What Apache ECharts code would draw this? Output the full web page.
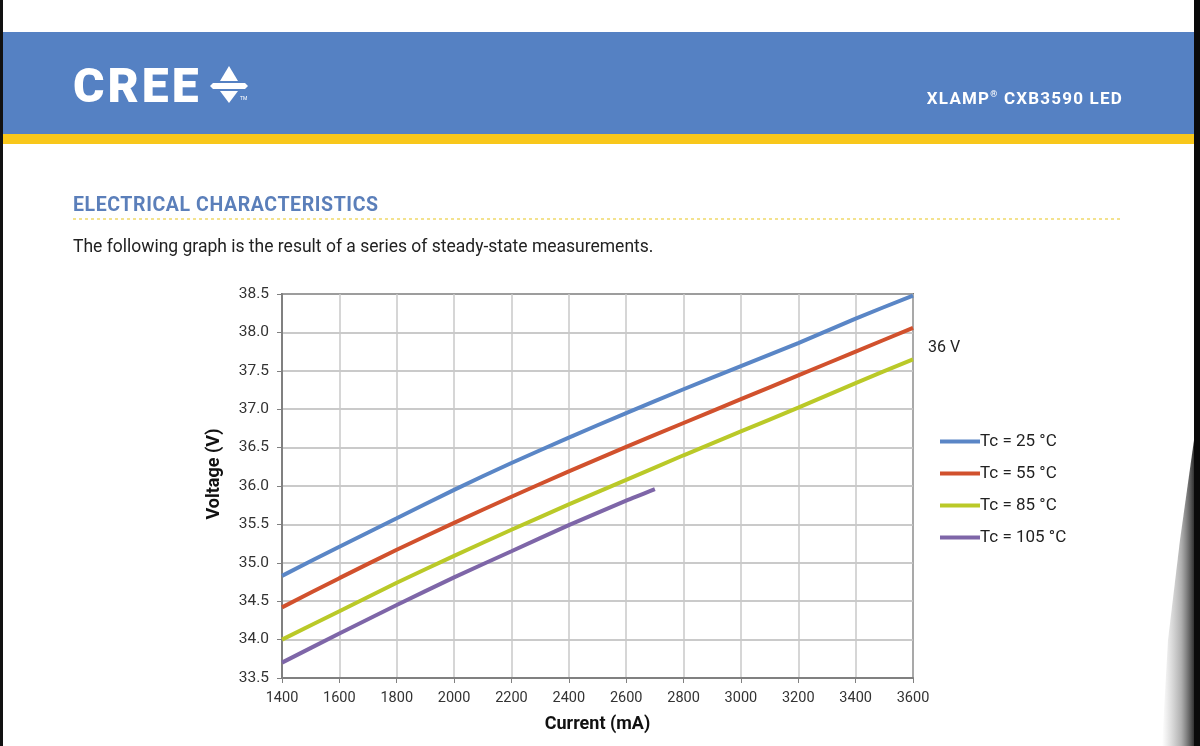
<!DOCTYPE html>
<html>
<head>
<meta charset="utf-8">
<script src="https://cdn.jsdelivr.net/npm/echarts@6/dist/echarts.min.js"></script>
<style>
html,body{margin:0;padding:0;background:#fff;}
#wrap{position:relative;width:1200px;height:746px;overflow:hidden;}
#c{position:absolute;left:0;top:0;width:1200px;height:746px;}
.t{position:absolute;white-space:nowrap;font-family:Roboto,sans-serif;line-height:1;z-index:5;}
#logo{left:73px;top:62px;font-size:48px;font-weight:900;color:#fff;letter-spacing:3px;}
#prod{right:77px;top:90px;font-size:17px;font-weight:700;color:#fff;letter-spacing:1.2px;}
#prod sup{font-size:9px;vertical-align:7px;line-height:0;}
#sec{left:73px;top:195px;font-size:19.5px;font-weight:700;color:#5B7FBA;letter-spacing:0.6px;}
#para{left:73px;top:238px;font-size:17.5px;color:#222;}
</style>
</head>
<body>
<div id="wrap">
<div id="c"></div>
<div class="t" id="logo">CREE</div>
<div class="t" id="prod">XLAMP<sup>®</sup> CXB3590 LED</div>
<div class="t" id="sec">ELECTRICAL CHARACTERISTICS</div>
<div class="t" id="para">The following graph is the result of a series of steady-state measurements.</div>
</div>
<script>
// ---- data ----
const seriesNames = ['Tc = 25 °C', 'Tc = 55 °C', 'Tc = 85 °C', 'Tc = 105 °C'];
const currents = [1400, 1600, 1800, 2000, 2200, 2400, 2600, 2800, 3000, 3200, 3400, 3600];
const v25  = [34.83, 35.21, 35.58, 35.95, 36.30, 36.63, 36.95, 37.26, 37.56, 37.86, 38.18, 38.48];
const v55  = [34.42, 34.80, 35.17, 35.52, 35.86, 36.19, 36.51, 36.82, 37.13, 37.44, 37.75, 38.06];
const v85  = [34.00, 34.37, 34.74, 35.09, 35.43, 35.76, 36.08, 36.40, 36.71, 37.02, 37.34, 37.65];
const currents105 = [1400, 1600, 1800, 2000, 2200, 2400, 2600, 2700];
const v105 = [33.70, 34.08, 34.45, 34.81, 35.15, 35.49, 35.81, 35.96];
const xTicks = {min: 1400, max: 3600, step: 200};
const yTicks = {min: 33.5, max: 38.5, step: 0.5};
const xAxisTitle = 'Current (mA)';
const yAxisTitle = 'Voltage (V)';
const noteText = '36 V';
const colors = ['#5A86C6', '#D1512D', '#BAC928', '#7E66A8'];

function pairs(xs, ys){ return xs.map((x, i) => [x, ys[i]]); }

const chart = echarts.init(document.getElementById('c'), null, {renderer: 'canvas'});
const font = 'Roboto';

const option = {
  animation: false,
  backgroundColor: '#ffffff',
  textStyle: {fontFamily: font},
  grid: {left: 282, right: 287, top: 294, bottom: 68, show: true, borderColor: '#111', borderWidth: 1.5, containLabel: false},
  legend: {
    orient: 'vertical', left: 935, top: 428,
    icon: 'rect', itemWidth: 40, itemHeight: 4, itemGap: 15,
    textStyle: {fontFamily: font, fontSize: 17, color: '#222', padding: [0,0,0,-5]},
    data: seriesNames
  },
  xAxis: {
    type: 'value', min: xTicks.min, max: xTicks.max, interval: xTicks.step,
    name: xAxisTitle, nameLocation: 'middle', nameGap: 37,
    nameTextStyle: {fontFamily: font, fontSize: 18, fontWeight: 'bold', color: '#111'},
    axisLine: {show: true, lineStyle: {color: '#808080', width: 2}},
    axisTick: {show: true, length: 5, lineStyle: {color: '#808080'}},
    axisLabel: {fontFamily: font, fontSize: 14.5, color: '#333', margin: 13, formatter: v => String(v)},
    splitLine: {show: true, lineStyle: {color: '#c8c8c8', width: 1.5}}
  },
  yAxis: {
    type: 'value', min: yTicks.min, max: yTicks.max, interval: yTicks.step,
    axisLine: {show: true, lineStyle: {color: '#808080', width: 2}},
    axisTick: {show: true, length: 5, lineStyle: {color: '#808080'}},
    axisLabel: {fontFamily: font, fontSize: 15.5, color: '#333', margin: 13, formatter: v => v.toFixed(1)},
    splitLine: {show: true, lineStyle: {color: '#b8b8b8', width: 1.5}}
  },
  series: [
    {name: seriesNames[0], type: 'line', data: pairs(currents, v25)},
    {name: seriesNames[1], type: 'line', data: pairs(currents, v55)},
    {name: seriesNames[2], type: 'line', data: pairs(currents, v85)},
    {name: seriesNames[3], type: 'line', data: pairs(currents105, v105)}
  ].map((s, i) => Object.assign(s, {
    showSymbol: false, symbol: 'none', smooth: 0.2,
    lineStyle: {width: 4, color: colors[i]}, itemStyle: {color: colors[i]}
  })),
  graphic: [
    // header band
    {type: 'rect', left: 0, top: 32, shape: {width: 1200, height: 103}, style: {fill: '#5581C3'}, z: 1},
    {type: 'rect', left: 0, top: 134, shape: {width: 1200, height: 10}, style: {fill: '#F8C71B'}, z: 1},
    // logo mark
    {type: 'polygon', shape: {points: [[220,81],[238,81],[229,66]]}, style: {fill: '#fff'}, z: 5},
    {type: 'polygon', shape: {points: [[213,83],[245,83],[248,86],[245,89],[213,89],[210,86]]}, style: {fill: '#fff'}, z: 5},
    {type: 'polygon', shape: {points: [[220,91],[238,91],[229,103]]}, style: {fill: '#fff'}, z: 5},
    {type: 'text', x: 240, y: 96, style: {text: 'TM', fill: '#fff', font: '5px "Roboto"'}, z: 5},
    // section rule
    {type: 'line', shape: {x1: 73, y1: 219, x2: 1123, y2: 219}, style: {stroke: '#EFD96A', lineWidth: 1.5, lineDash: [3, 3]}, z: 5},
    // axis title (y)
    {type: 'text', x: 214, y: 474, rotation: Math.PI / 2,
      style: {text: yAxisTitle, fill: '#111', font: 'bold 18px "Roboto"', textAlign: 'center', textVerticalAlign: 'middle'}, z: 5},
    // annotation
    {type: 'text', x: 928, y: 340, style: {text: noteText, fill: '#222', font: '16px "Roboto"'}, z: 5},
    // photo frame edges
    {type: 'rect', left: 0, top: 0, shape: {width: 3, height: 746}, style: {fill: '#111'}, z: 10},
    {type: 'polygon', shape: {points: [[1194,0],[1200,0],[1200,746],[1194,746]]}, style: {fill: '#0a0a0a'}, z: 10},
    {type: 'polygon', shape: {points: [[1194,440],[1194,746],[1162,746],[1168,640],[1180,540]]},
      style: {fill: new echarts.graphic.LinearGradient(0, 0, 1, 0, [{offset: 0, color: 'rgba(140,140,140,0)'}, {offset: 0.6, color: 'rgba(110,110,110,0.55)'}, {offset: 1, color: 'rgba(50,50,50,1)'}])}, z: 9}
  ]
};
chart.setOption(option);
</script>
</body>
</html>
